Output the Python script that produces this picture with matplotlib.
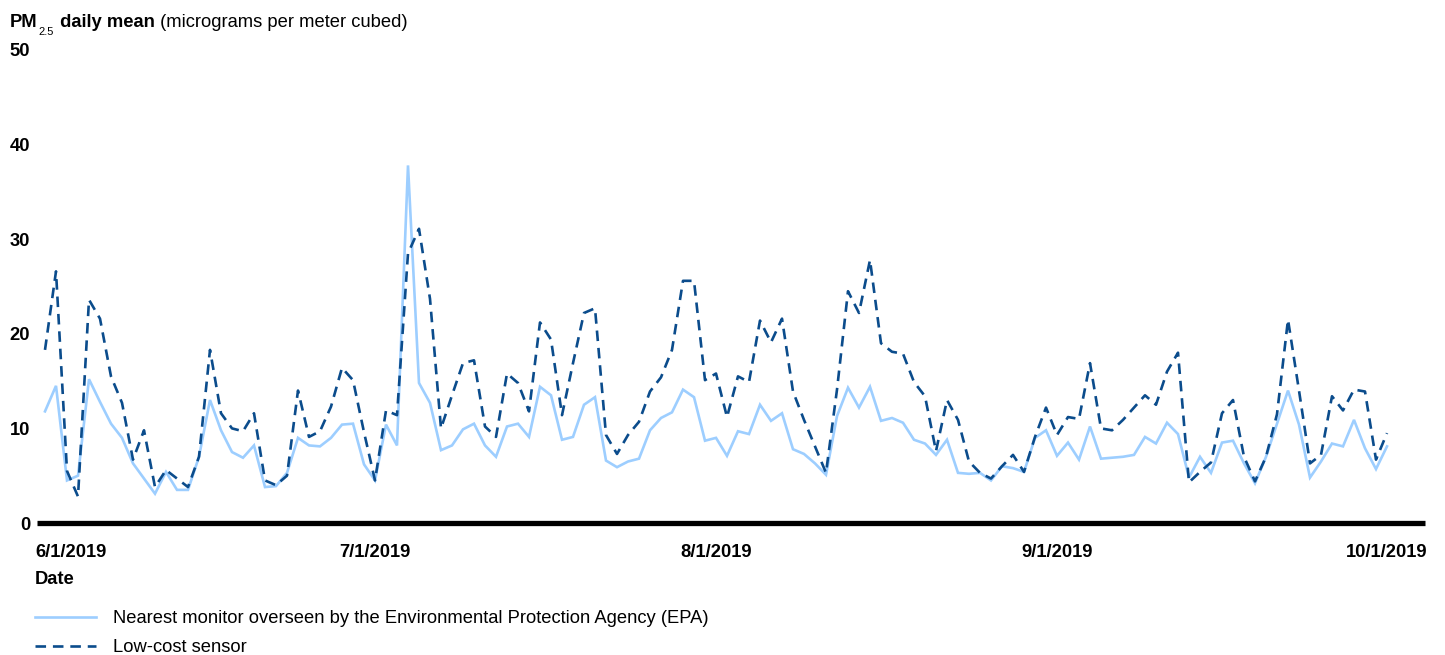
import matplotlib
matplotlib.use("Agg")
import matplotlib.pyplot as plt
import matplotlib.transforms as mtransforms
from matplotlib.lines import Line2D

plt.rcParams['font.family'] = ['Liberation Sans', 'DejaVu Sans']

# ---- data (days since 6/1/2019) ----
epa = [11.8, 14.5, 4.5, 5.0, 15.2, 12.8, 10.5, 9.0, 6.3, 4.7, 3.1, 5.4, 3.5, 3.5, 7.0, 13.0, 9.8, 7.5, 6.9, 8.2, 3.8,
       3.9, 5.3, 9.0, 8.2, 8.1, 9.0, 10.4, 10.5, 6.2, 4.5, 10.4, 8.2, 37.8, 14.8, 12.7, 7.7, 8.2, 9.9, 10.5, 8.2, 7.0,
       10.2, 10.5, 9.1, 14.4, 13.5, 8.8, 9.1, 12.5, 13.3, 6.6, 5.9, 6.5, 6.8, 9.8, 11.1, 11.7, 14.1, 13.3, 8.7, 9.0, 7.1,
       9.7, 9.4, 12.5, 10.8, 11.6, 7.8, 7.3, 6.3, 5.1, 11.3, 14.3, 12.2, 14.4, 10.8, 11.1, 10.6, 8.8, 8.4, 7.2, 8.8, 5.3,
       5.2, 5.3, 4.5, 6.0, 5.8, 5.4, 9.0, 9.8, 7.1, 8.5, 6.7, 10.2, 6.8, 6.9, 7.0, 7.2, 9.1, 8.4, 10.6, 9.4, 4.8,
       7.0, 5.3, 8.5, 8.7, 6.3, 4.2, 7.0, 10.5, 14.0, 10.4, 4.8, 6.5, 8.4, 8.1, 10.9, 7.9, 5.7, 8.1]
sensor = [18.3, 26.6, 5.5, 2.8, 23.6, 21.6, 15.5, 12.7, 6.7, 9.8, 3.8, 5.6, 4.7, 3.8, 7.0, 18.3, 11.6, 10.0, 9.7, 11.6, 4.5,
          4.0, 5.0, 14.0, 9.1, 9.7, 12.3, 16.4, 15.1, 9.6, 4.5, 11.9, 11.4, 28.5, 31.1, 23.7, 10.0, 13.5, 16.9, 17.2, 10.2, 9.1,
          15.8, 14.8, 11.8, 21.2, 19.4, 11.4, 16.9, 22.2, 22.7, 9.3, 7.3, 9.3, 10.7, 13.9, 15.4, 18.3, 25.6, 25.6, 15.1, 15.8, 11.2,
          15.5, 14.9, 21.4, 19.1, 21.6, 13.9, 10.9, 8.1, 5.3, 14.1, 24.5, 22.2, 27.8, 19.0, 18.1, 17.9, 14.9, 13.4, 7.6, 13.0, 10.9,
          6.5, 5.3, 4.7, 6.0, 7.2, 5.4, 9.1, 12.2, 9.3, 11.2, 11.0, 16.9, 10.0, 9.8, 10.9, 12.2, 13.5, 12.5, 16.0, 18.0, 4.3,
          5.4, 6.4, 11.6, 13.0, 7.0, 4.4, 7.0, 11.5, 21.5, 14.0, 6.3, 7.2, 13.4, 11.9, 14.1, 13.9, 6.7, 9.5]
days = list(range(len(epa)))
xtick_days = [0, 30, 61, 92, 122]
xtick_labels = ["6/1/2019", "7/1/2019", "8/1/2019", "9/1/2019", "10/1/2019"]
yticks = [0, 10, 20, 30, 40, 50]
series_labels = ["Nearest monitor overseen by the Environmental Protection Agency (EPA)",
                 "Low-cost sensor"]

EPA_COLOR = "#9DCEFF"
SENSOR_COLOR = "#0B4C8C"
FS = 13.2

W, H = 1445, 655
fig = plt.figure(figsize=(W / 100, H / 100), dpi=100)
ax = fig.add_axes([37 / W, (H - 523) / H, (1425 - 37) / W, (523 - 50) / H])

ax.plot(days, epa, color=EPA_COLOR, lw=1.9, solid_joinstyle='miter')
ax.plot(days, sensor, color=SENSOR_COLOR, lw=1.9, dashes=(4, 2.6))

ax.set_ylim(0, 50)
ax.set_xlim((37 - 45) / 11.0, (1425 - 45) / 11.0)
for s in ['top', 'right', 'left']:
    ax.spines[s].set_visible(False)
ax.spines['bottom'].set_linewidth(3.8)
ax.spines['bottom'].set_color('black')
ax.spines['bottom'].set_capstyle('butt')

ax.set_yticks(yticks)
ax.set_yticklabels([str(v) for v in yticks], fontsize=FS, fontweight='bold')
ax.tick_params(axis='y', length=0, pad=5)
ax.set_xticks(xtick_days)
ax.set_xticklabels(xtick_labels, fontsize=FS, fontweight='bold')
ax.tick_params(axis='x', length=0, pad=15)
first = ax.get_xticklabels()[0]
first.set_horizontalalignment('left')
first.set_transform(first.get_transform() + mtransforms.ScaledTranslation(-10 / 100, 0, fig.dpi_scale_trans))

# title
t1 = fig.text(10 / W, (H - 27) / H, "PM", fontsize=FS, fontweight='bold', va='baseline', ha='left')
t2 = fig.text(0, 0, "2.5", fontsize=8, va='baseline', ha='left')
fig.canvas.draw()
r = fig.canvas.get_renderer()
bb = t1.get_window_extent(r)
t2.set_position(((bb.x1 + 1) / W, (bb.y0 - 4) / H))
bb2 = t2.get_window_extent(r)
t3 = fig.text((bb2.x1 + 1) / W, (H - 27) / H, " daily mean", fontsize=FS, fontweight='bold', va='baseline', ha='left')
bb3 = t3.get_window_extent(r)
fig.text((bb3.x1) / W, (H - 27) / H, " (micrograms per meter cubed)", fontsize=FS, va='baseline', ha='left')

fig.text(35 / W, (H - 580) / H, "Date", fontsize=FS, fontweight='bold', va='center', ha='left')

handles = [Line2D([], [], color=EPA_COLOR, lw=1.9),
           Line2D([], [], color=SENSOR_COLOR, lw=1.9, dashes=(4, 2.6))]
fig.legend(handles, series_labels, loc='upper left', bbox_to_anchor=(35 / W, (H - 610) / H),
           frameon=False, fontsize=FS, handlelength=3.3, handletextpad=0.95, labelspacing=0.68,
           borderaxespad=0, borderpad=0)

fig.savefig("out.png", dpi=100)
